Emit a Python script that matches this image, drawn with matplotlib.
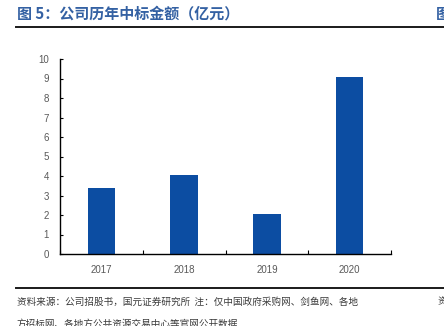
import matplotlib
import numpy as np

matplotlib.use("Agg")
import matplotlib.pyplot as plt  # noqa: E402
from matplotlib.lines import Line2D  # noqa: E402

plt.rcParams["font.family"] = ["Liberation Sans", "Noto Sans CJK SC", "DejaVu Sans"]

# Winning bid amounts by year (100 million yuan)
years = ["2017", "2018", "2019", "2020"]
amounts = [3.38, 4.07, 2.05, 9.06]
y_ticks = list(range(0, 11))

TITLE = "图 5：公司历年中标金额（亿元）"
SOURCE = "资料来源：公司招股书，国元证券研究所  注：仅中国政府采购网、剑鱼网、各地"
SOURCE_CONT = "方招标网、各地方公共资源交易中心等官网公开数据"

BAR_COLOR = "#0C4DA2"
TITLE_COLOR = "#3461A3"
TICK_COLOR = "#595959"
NOTE_COLOR = "#3a3a3a"

W, H = 444, 326
fig = plt.figure(figsize=(W / 100, H / 100), dpi=100)


def px(x, y):
    """Pixel position (from top-left) to figure fraction."""
    return x / W, 1 - y / H


left, top = px(60, 59)
right, bottom = px(391, 254)
ax = fig.add_axes([left, bottom, right - left, top - bottom])

x = np.arange(len(years))
ax.bar(x, amounts, width=0.33, color=BAR_COLOR, zorder=2)

ax.set_xlim(-0.5, len(years) - 0.5)
ax.set_ylim(0, 10)
ax.set_yticks(y_ticks)
ax.set_xticks(x)
ax.set_xticklabels(years)
ax.set_xticks(np.arange(-0.5, len(years)), minor=True)

for side in ("top", "right"):
    ax.spines[side].set_visible(False)
for side in ("left", "bottom"):
    ax.spines[side].set_color("#000000")
    ax.spines[side].set_linewidth(1.0)

ax.tick_params(axis="y", direction="in", length=2.5, width=0.8, pad=8,
               labelsize=7, labelcolor=TICK_COLOR)
ax.tick_params(axis="x", which="major", length=0, pad=8,
               labelsize=7, labelcolor=TICK_COLOR)
ax.tick_params(axis="x", which="minor", direction="in", length=3, width=0.8)

# Page header and footer
fig.text(*px(17, 13.5), TITLE, fontsize=10.8, fontweight="bold",
         color=TITLE_COLOR, va="center", ha="left",
         family=["Noto Sans CJK SC"])
fig.text(*px(436, 13.5), "图", fontsize=10.8, fontweight="bold",
         color=TITLE_COLOR, va="center", ha="left",
         family=["Noto Sans CJK SC"])
fig.add_artist(Line2D([16 / W, 1], [1 - 26.5 / H] * 2, color="#1a1a1a",
                      linewidth=1.4, transform=fig.transFigure))
fig.add_artist(Line2D([16 / W, 1], [1 - 288 / H] * 2, color="#1a1a1a",
                      linewidth=1.4, transform=fig.transFigure))

fig.text(*px(17, 302), SOURCE, fontsize=6.9, color=NOTE_COLOR,
         va="center", ha="left", family=["Noto Sans CJK SC"])
fig.text(*px(438, 302), "资", fontsize=6.9, color=NOTE_COLOR,
         va="center", ha="left", family=["Noto Sans CJK SC"])
fig.text(*px(17, 324), SOURCE_CONT, fontsize=6.9, color=NOTE_COLOR,
         va="center", ha="left", family=["Noto Sans CJK SC"])

fig.savefig("out.png", dpi=100)
